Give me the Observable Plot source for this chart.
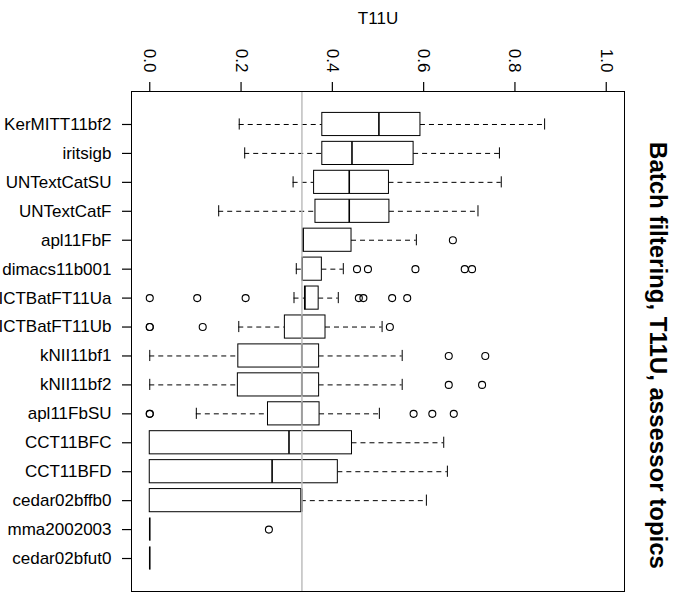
<!DOCTYPE html>
<html><head><meta charset="utf-8">
<script src="https://cdn.jsdelivr.net/npm/d3@7"></script>
<script src="https://cdn.jsdelivr.net/npm/@observablehq/plot@0.6"></script>
<style>body{margin:0;background:#fff}</style>
</head><body><div id="chart"></div>
<script>
const categories = ["KerMITT11bf2","iritsigb","UNTextCatSU","UNTextCatF","apl11FbF","dimacs11b001","ICTBatFT11Ua","ICTBatFT11Ub","kNII11bf1","kNII11bf2","apl11FbSU","CCT11BFC","CCT11BFD","cedar02bffb0","mma2002003","cedar02bfut0"];
const lowWhisker  = [0.196,0.208,0.314,0.151,0.336,0.321,0.316,0.195,0,0,0.102,0,0,0,0,0];
const q1          = [0.378,0.378,0.360,0.363,0.336,0.334,0.340,0.296,0.194,0.193,0.259,0,0,0,0,0];
const median      = [0.502,0.443,0.437,0.437,0.336,0.334,0.340,0.333,0.333,0.333,0.333,0.305,0.268,0.333,0,0];
const q3          = [0.593,0.578,0.524,0.525,0.442,0.377,0.370,0.385,0.371,0.371,0.372,0.443,0.412,0.332,0,0];
const highWhisker = [0.865,0.766,0.770,0.719,0.584,0.424,0.413,0.509,0.553,0.553,0.503,0.644,0.652,0.606,0,0];
const outliers = [
  [], [], [], [],
  [0.664],
  [0.454,0.478,0.582,0.690,0.706],
  [0,0.104,0.210,0.458,0.468,0.531,0.564],
  [0,0,0.116,0.526],
  [0.655,0.735],
  [0.655,0.728],
  [0,0,0.578,0.619,0.666],
  [], [], [],
  [0.261],
  []
];
const reference = [1/3];
const xTicks = [0,0.2,0.4,0.6,0.8,1.0];
const xLabel = "T11U";
const title = "Batch filtering, T11U, assessor topics";

const rows = categories.map((c,i)=>({cat:c, lo:lowWhisker[i], q1:q1[i], med:median[i], q3:q3[i], hi:highWhisker[i]}));
const outlierRows = categories.flatMap((c,i)=>outliers[i].map(v=>({cat:c, v})));

const W = 683, H = 592, mL = 131, mR = 59, mT = 91, mB = 1;
const tickLen = 9;
const stapleInset = 6;

const chart = Plot.plot({
  width:W, height:H, marginLeft:mL, marginRight:mR, marginTop:mT, marginBottom:mB,
  style:{fontFamily:"'Liberation Sans', Arial, sans-serif", fontSize:"17px", color:"black", background:"white"},
  x:{domain:[-0.04,1.04]},
  y:{domain:categories, paddingInner:0.2, paddingOuter:0.74, align:0.5, round:false},
  marks:[
    Plot.ruleY(rows.filter(d=>d.q1>d.lo), {y:"cat", x1:"lo", x2:"q1", stroke:"black", strokeDasharray:"5,4"}),
    Plot.ruleY(rows.filter(d=>d.hi>d.q3), {y:"cat", x1:"q3", x2:"hi", stroke:"black", strokeDasharray:"5,4"}),
    Plot.tickX(rows.filter(d=>d.q1>d.lo), {x:"lo", y:"cat", insetTop:stapleInset, insetBottom:stapleInset, stroke:"black"}),
    Plot.tickX(rows.filter(d=>d.hi>d.q3), {x:"hi", y:"cat", insetTop:stapleInset, insetBottom:stapleInset, stroke:"black"}),
    Plot.barX(rows, {y:"cat", x1:"q1", x2:"q3", fill:"white", stroke:"black"}),
    Plot.tickX(rows, {x:"med", y:"cat", stroke:"black", strokeWidth:1.6}),
    Plot.dot(outlierRows, {x:"v", y:"cat", r:3.5, stroke:"black", fill:"none", strokeWidth:1.1}),
    Plot.ruleX(reference, {stroke:"#bebebe", strokeWidth:1.5}),
    Plot.frame({stroke:"black"}),
    Plot.tickX(xTicks, {x:d=>d, insetTop:-tickLen, insetBottom:H - mT - mB, stroke:"black", strokeWidth:1.2}),
    Plot.tickY(categories, {y:d=>d, insetLeft:-tickLen, insetRight:W - mL - mR, stroke:"black", strokeWidth:1.2}),
    Plot.axisX({anchor:"top", ticks:xTicks, tickFormat:d3.format(".1f"), tickRotate:90, tickSize:0, tickPadding:19, fontSize:17, label:null}),
    Plot.axisY({anchor:"left", tickSize:0, tickPadding:20, fontSize:17, label:null}),
    Plot.text([xLabel], {frameAnchor:"top", dy:-73, textAnchor:"middle", lineAnchor:"middle", fontSize:17, fill:"black"}),
    Plot.text([title], {frameAnchor:"right", dx:33, dy:14, rotate:90, textAnchor:"middle", lineAnchor:"middle", fontWeight:"bold", fontSize:24, fill:"black"})
  ]
});
document.getElementById("chart").appendChild(chart);
</script>
</body></html>
